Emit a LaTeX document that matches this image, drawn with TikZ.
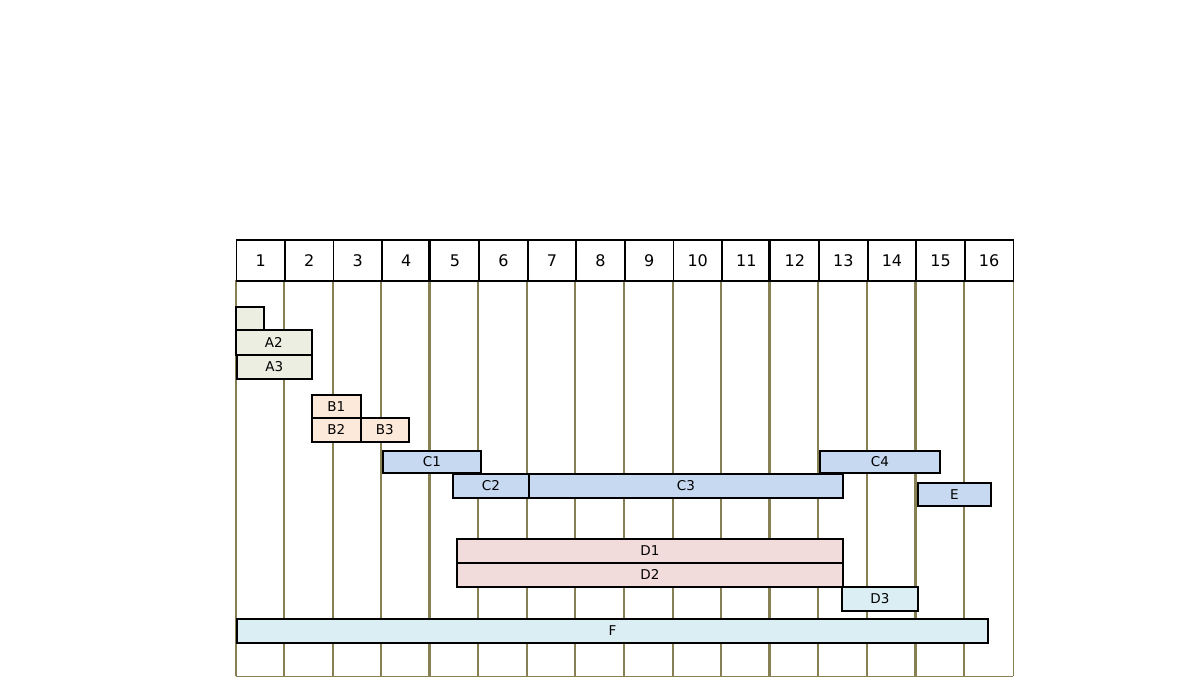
\documentclass[tikz,border=0pt]{standalone}
\usepackage{fontspec}
\setmainfont{DejaVu Sans}
\definecolor{olive}{RGB}{135,128,85}
\definecolor{afill}{RGB}{235,238,224}
\definecolor{bfill}{RGB}{253,233,217}
\definecolor{cfill}{RGB}{198,217,241}
\definecolor{dfill}{RGB}{242,220,219}
\definecolor{ffill}{RGB}{219,238,243}
\newcommand\taskbar[7]{\node[bar,fill=#6,minimum width=#4-#2,minimum height=#5-#3,anchor=north west] (#1) at (#2,#3) {#7};}
\begin{document}
\begin{tikzpicture}[x=1pt,y=-1pt,
  hcell/.style={draw=black,line width=1.7pt,minimum width=48.5625pt,minimum height=41pt,inner sep=0pt,anchor=north west,font=\fontsize{16}{18}\selectfont},
  bar/.style={draw=black,line width=1.8pt,inner sep=0pt,font=\fontsize{13.5}{15}\selectfont},
  gridline/.style={draw=olive,line width=2pt},
  thickgrid/.style={draw=olive,line width=2.8pt},
  edge/.style={draw=olive,line width=1pt}]
\useasboundingbox (0,0) rectangle (1190,695);
% grid lines
\foreach \i in {0,...,15}{
  \pgfmathsetmacro\xx{235.5+\i*48.5625}
  \coordinate (gt\i) at (\xx,280);
  \coordinate (gb\i) at (\xx,676);
}
\foreach \i in {0,2,3,5,6,7,8,9,10,12,13,15}{\draw[gridline] (gt\i) -- (gb\i);}
\foreach \i in {1,4,11,14}{\draw[thickgrid] (gt\i) -- (gb\i);}
\coordinate (gtr) at (1013,280);
\coordinate (gbr) at (1013,676);
\coordinate (gbl) at (235.5,676);
\draw[edge] (gtr) -- (gbr);
\draw[edge] (gbl) -- (gbr);
% header
\foreach \i in {1,...,16}{
  \pgfmathsetmacro\xx{235.5+(\i-1)*48.5625}
  \node[hcell] (h\i) at (\xx,239) {\i};
}
\draw[line width=2.6pt] (h5.north west) -- (h5.south west);
\draw[line width=2.6pt] (h12.north west) -- (h12.south west);
% bars
\taskbar{a1}{235}{306}{263}{329}{afill}{}
\taskbar{a2}{235}{329}{311}{354}{afill}{A2}
\taskbar{a3}{236}{354}{311}{378}{afill}{A3}
\taskbar{b1}{311}{394}{360}{417}{bfill}{B1}
\taskbar{b2}{311}{417}{360}{441}{bfill}{B2}
\taskbar{b3}{360}{417}{408}{441}{bfill}{B3}
\taskbar{c1}{382}{450}{480}{472}{cfill}{C1}
\taskbar{c4}{819}{450}{939}{472}{cfill}{C4}
\taskbar{c2}{452}{473}{528}{497}{cfill}{C2}
\taskbar{c3}{528}{473}{842}{497}{cfill}{C3}
\taskbar{e}{917}{482}{990}{505}{cfill}{E}
\taskbar{d1}{456}{538}{842}{562}{dfill}{D1}
\taskbar{d2}{456}{562}{842}{586}{dfill}{D2}
\taskbar{d3}{841}{586}{917}{610}{ffill}{D3}
\taskbar{f}{236}{618}{987}{642}{ffill}{F}
\end{tikzpicture}
\end{document}
